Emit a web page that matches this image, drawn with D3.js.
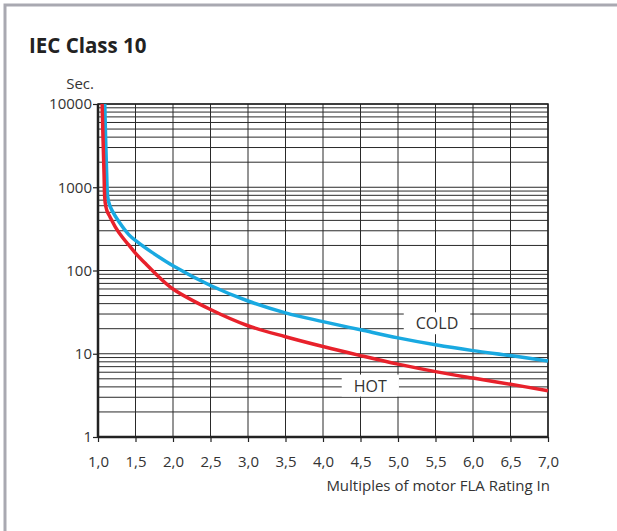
<!DOCTYPE html>
<html><head><meta charset="utf-8">
<script src="https://cdn.jsdelivr.net/npm/d3@7"></script>
<style>
body{margin:0;background:#fff;}
svg{display:block;}
text{font-family:"Open Sans","Noto Sans",sans-serif;}
</style></head>
<body>
<svg id="chart" width="617" height="531"></svg>
<script>
// ---- data ----
const coldX = [1.09, 1.115, 1.13, 1.155, 1.19, 1.275, 1.41, 1.52, 1.72, 2.0, 2.5, 3.0, 3.5, 4.0, 4.5, 5.0, 5.5, 6.0, 6.5, 7.0];
const coldY = [10000, 1500, 760, 610, 520, 390, 270, 222, 165, 114, 66, 43, 31, 24.3, 19.4, 15.5, 12.8, 10.9, 9.5, 8.2];
const hotX  = [1.055, 1.08, 1.095, 1.12, 1.16, 1.23, 1.32, 1.41, 1.52, 1.63, 1.81, 2.0, 2.5, 3.0, 3.5, 4.0, 4.5, 5.0, 5.5, 6.0, 6.5, 7.0];
const hotY  = [10000, 1500, 660, 520, 440, 335, 254, 203, 154, 122, 84, 60, 34, 21.7, 16, 12.2, 9.5, 7.5, 6.1, 5.1, 4.3, 3.6];
const xTicks = [1.0, 1.5, 2.0, 2.5, 3.0, 3.5, 4.0, 4.5, 5.0, 5.5, 6.0, 6.5, 7.0];
const yTicks = [1, 10, 100, 1000, 10000];
const seriesNames = ["COLD", "HOT"];
const labelAt = {COLD: [5.52, 23], HOT: [4.63, 4.1]};

const svg = d3.select("#chart");
const W = 617, H = 531;
const m = {left: 98, top: 104, right: 548, bottom: 437};

// frame (top and left edges only)
svg.append("path").attr("d", `M5,${H} L5,5 L${W},5`)
  .attr("fill", "none").attr("stroke", "#a9a9b1").attr("stroke-width", 3);

svg.append("text").attr("x", 29).attr("y", 53)
  .attr("font-size", 20.5).attr("font-weight", "bold").attr("fill", "#222")
  .text("IEC Class 10");

const x = d3.scaleLinear().domain([1, 7]).range([m.left, m.right]);
const y = d3.scaleLog().domain([1, 10000]).range([m.bottom, m.top]);

// minor horizontal grid
const minor = [];
for (let e = 0; e < 4; e++) for (let k = 2; k <= 9; k++) minor.push(k * Math.pow(10, e));
const g = svg.append("g");
g.selectAll("line.h").data(minor.concat(yTicks)).join("line")
  .attr("x1", m.left).attr("x2", m.right)
  .attr("y1", d => y(d)).attr("y2", d => y(d))
  .attr("stroke", "#2a2a2a").attr("stroke-width", 1);
g.selectAll("line.v").data(xTicks).join("line")
  .attr("y1", m.top).attr("y2", m.bottom)
  .attr("x1", d => x(d)).attr("x2", d => x(d))
  .attr("stroke", "#2a2a2a").attr("stroke-width", 1);

// frame lines
svg.append("rect").attr("x", m.left).attr("y", m.top)
  .attr("width", m.right - m.left).attr("height", m.bottom - m.top)
  .attr("fill", "none").attr("stroke", "#222").attr("stroke-width", 1.5);
svg.append("line").attr("x1", m.left).attr("x2", m.right).attr("y1", m.bottom).attr("y2", m.bottom)
  .attr("stroke", "#222").attr("stroke-width", 2.5);
svg.append("line").attr("x1", m.left).attr("x2", m.left).attr("y1", m.top).attr("y2", m.bottom)
  .attr("stroke", "#222").attr("stroke-width", 2.5);

// axes
const xAxis = svg.append("g").attr("transform", `translate(0,${m.bottom})`)
  .call(d3.axisBottom(x).tickValues(xTicks).tickSize(5).tickPadding(14)
    .tickFormat(d => d3.format(".1f")(d).replace(".", ",")));
const yAxis = svg.append("g").attr("transform", `translate(${m.left},0)`)
  .call(d3.axisLeft(y).tickValues(yTicks).tickSize(5).tickPadding(1)
    .tickFormat(d3.format("d")));
[xAxis, yAxis].forEach(a => {
  a.select(".domain").remove();
  a.selectAll(".tick line").attr("stroke", "#222").attr("stroke-width", 1.2);
  a.selectAll(".tick text").attr("font-size", 15).attr("fill", "#333")
    .attr("font-family", "\"Open Sans\",\"Noto Sans\",sans-serif");
});

svg.append("text").attr("x", 94).attr("y", 89).attr("text-anchor", "end")
  .attr("font-size", 15).attr("fill", "#333").text("Sec.");
svg.append("text").attr("x", m.right + 2).attr("y", 491).attr("text-anchor", "end")
  .attr("font-size", 15).attr("fill", "#333").text("Multiples of motor FLA Rating In");

// curves
const line = d3.line().x(d => x(d[0])).y(d => y(d[1])).curve(d3.curveCatmullRom.alpha(0.5));
const series = [
  {name: "COLD", pts: d3.zip(coldX, coldY), color: "#19a9e1"},
  {name: "HOT", pts: d3.zip(hotX, hotY), color: "#e8212b"}
];

// label boxes (white, covering grid)
series.forEach(s => {
  const [lx, ly] = labelAt[s.name];
  const lg = svg.append("g");
  const r = lg.append("rect").attr("fill", "#fff");
  const t = lg.append("text").attr("x", x(lx)).attr("y", y(ly)).attr("dy", "0.35em")
    .attr("text-anchor", "middle").attr("font-size", 16).attr("fill", "#333").text(s.name);
  const bb = t.node().getBBox();
  r.attr("x", bb.x - 12).attr("y", bb.y).attr("width", bb.width + 24).attr("height", bb.height);
});

series.forEach(s => {
  svg.append("path").datum(s.pts).attr("d", line).attr("fill", "none")
    .attr("stroke", s.color).attr("stroke-width", 3.5).attr("stroke-linejoin", "round");
});
</script>
</body></html>
